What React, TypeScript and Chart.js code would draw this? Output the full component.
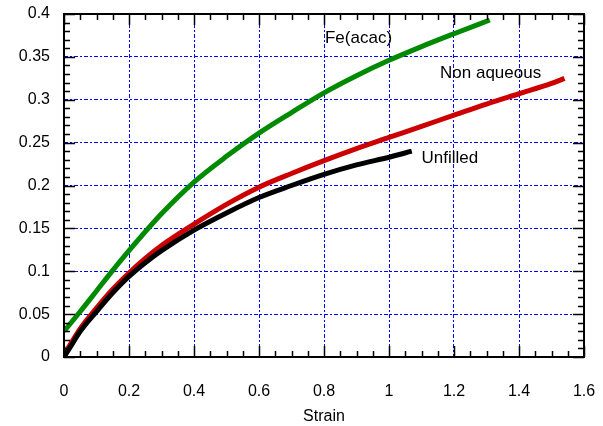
import React, { useEffect, useRef } from "react";
import { Chart, registerables } from "chart.js";

Chart.register(...registerables);

// Tick labels
const xTickValues = [0, 0.2, 0.4, 0.6, 0.8, 1.0, 1.2, 1.4, 1.6];
const xTickLabels = ["0", "0.2", "0.4", "0.6", "0.8", "1", "1.2", "1.4", "1.6"];
const yTickValues = [0, 0.05, 0.1, 0.15, 0.2, 0.25, 0.3, 0.35, 0.4];
const yTickLabels = ["0", "0.05", "0.1", "0.15", "0.2", "0.25", "0.3", "0.35", "0.4"];

// Fe(acac) series
const feX = [0, 0.05, 0.1, 0.15, 0.2, 0.3, 0.4, 0.5, 0.6, 0.7, 0.8, 0.9, 1.0, 1.1, 1.2, 1.31];
const feY = [0.03, 0.053, 0.077, 0.101, 0.124, 0.167, 0.204, 0.234, 0.261, 0.285, 0.308, 0.328, 0.346, 0.362, 0.377, 0.393];

// Non aqueous series
const naX = [0, 0.02, 0.05, 0.1, 0.15, 0.2, 0.25, 0.3, 0.4, 0.5, 0.6, 0.7, 0.8, 0.9, 1.0, 1.1, 1.2, 1.3, 1.4, 1.5, 1.54];
const naY = [0.003, 0.015, 0.033, 0.057, 0.079, 0.098, 0.115, 0.13, 0.155, 0.178, 0.198, 0.214, 0.229, 0.243, 0.256, 0.269, 0.282, 0.295, 0.307, 0.319, 0.325];

// Unfilled series
const unX = [0, 0.02, 0.05, 0.1, 0.15, 0.2, 0.25, 0.3, 0.4, 0.5, 0.6, 0.7, 0.8, 0.9, 1.0, 1.07];
const unY = [0.0, 0.012, 0.03, 0.053, 0.075, 0.094, 0.11, 0.124, 0.148, 0.168, 0.186, 0.2, 0.213, 0.224, 0.233, 0.24];

// In-plot labels (data coordinates, left edge / vertical middle)
const annotationTexts = ["Fe(acac)", "Non aqueous", "Unfilled"];
const annotationX = [0.803, 1.157, 1.1];
const annotationY = [0.372, 0.331, 0.232];

const FONT = "'Liberation Sans', Arial, sans-serif";

const toPoints = (xs: number[], ys: number[]) => xs.map((x, i) => ({ x, y: ys[i] }));

const zeroPadding = (s: any) => {
  s.paddingTop = 0;
  s.paddingBottom = 0;
  s.paddingLeft = 0;
  s.paddingRight = 0;
};

const framePlugin = {
  id: "frame",
  afterDatasetsDraw(chart: any) {
    const { ctx, chartArea, scales } = chart;
    const { left, right, top, bottom } = chartArea;
    const xs = scales.x;
    const ys = scales.y;
    ctx.save();
    ctx.strokeStyle = "#000";
    ctx.lineWidth = 1.5;
    ctx.beginPath();
    for (let i = 0; i <= 32; i++) {
      const v = i * 0.05;
      const px = Math.round(xs.getPixelForValue(v)) + 0.5;
      const len = i % 4 === 0 ? 11 : 6;
      ctx.moveTo(px, bottom);
      ctx.lineTo(px, bottom - len);
      ctx.moveTo(px, top);
      ctx.lineTo(px, top + len);
    }
    for (let i = 0; i <= 40; i++) {
      const v = i * 0.01;
      const py = Math.round(ys.getPixelForValue(v)) + 0.5;
      const len = i % 5 === 0 ? 11 : 6;
      ctx.moveTo(left, py);
      ctx.lineTo(left + len, py);
      ctx.moveTo(right, py);
      ctx.lineTo(right - len, py);
    }
    ctx.stroke();
    ctx.lineWidth = 2;
    ctx.strokeRect(left, top, right - left, bottom - top);
    ctx.fillStyle = "#000";
    ctx.font = `17px ${FONT}`;
    ctx.textAlign = "left";
    ctx.textBaseline = "middle";
    annotationTexts.forEach((t, i) => {
      ctx.fillText(t, xs.getPixelForValue(annotationX[i]), ys.getPixelForValue(annotationY[i]));
    });
    ctx.restore();
  },
};

export default function App() {
  const ref = useRef<HTMLCanvasElement | null>(null);

  useEffect(() => {
    if (!ref.current) return;
    const gridColor = (ctx: any) => {
      const v = ctx.tick ? ctx.tick.value : 0;
      const s = ctx.scale;
      if (Math.abs(v - s.min) < 1e-9 || Math.abs(v - s.max) < 1e-9) return "rgba(0,0,0,0)";
      return "#0000ff";
    };
    const chart = new Chart(ref.current, {
      type: "line",
      data: {
        datasets: [
          {
            label: "Unfilled",
            data: toPoints(unX, unY),
            borderColor: "#000000",
            borderWidth: 5,
            pointRadius: 0,
            cubicInterpolationMode: "monotone",
            order: 0,
          },
          {
            label: "Non aqueous",
            data: toPoints(naX, naY),
            borderColor: "#cc0000",
            borderWidth: 5,
            pointRadius: 0,
            cubicInterpolationMode: "monotone",
            order: 1,
          },
          {
            label: "Fe(acac)",
            data: toPoints(feX, feY),
            borderColor: "#008a00",
            borderWidth: 5,
            pointRadius: 0,
            cubicInterpolationMode: "monotone",
            order: 2,
          },
        ],
      },
      options: {
        animation: false,
        responsive: true,
        maintainAspectRatio: false,
        parsing: false as any,
        layout: { padding: { top: 14, right: 19, left: 0, bottom: 0 } },
        plugins: { legend: { display: false }, tooltip: { enabled: false } },
        scales: {
          x: {
            type: "linear",
            min: 0,
            max: 1.6,
            afterBuildTicks: (s: any) => {
              s.ticks = xTickValues.map((v) => ({ value: v }));
            },
            afterFit: (s: any) => {
              s.height = 69;
              zeroPadding(s);
            },
            ticks: {
              autoSkip: false,
              maxRotation: 0,
              padding: 25,
              color: "#000",
              font: { family: FONT, size: 16 },
              callback: (_v: any, i: number) => xTickLabels[i],
            },
            grid: { color: gridColor, lineWidth: 1, drawTicks: false },
            border: { display: false, dash: [4, 2, 2, 2] },
            title: {
              display: true,
              text: "Strain",
              color: "#000",
              font: { family: FONT, size: 16 },
              padding: { top: 0, bottom: 0 },
            },
          },
          y: {
            type: "linear",
            min: 0,
            max: 0.4,
            afterBuildTicks: (s: any) => {
              s.ticks = yTickValues.map((v) => ({ value: v }));
            },
            afterFit: (s: any) => {
              s.width = 64;
              zeroPadding(s);
            },
            ticks: {
              autoSkip: false,
              padding: 14,
              color: "#000",
              font: { family: FONT, size: 16 },
              callback: (_v: any, i: number) => yTickLabels[i],
            },
            grid: { color: gridColor, lineWidth: 1, drawTicks: false },
            border: { display: false, dash: [4, 2, 2, 2] },
          },
        },
      },
      plugins: [framePlugin],
    });
    return () => chart.destroy();
  }, []);

  return (
    <div style={{ position: "absolute", left: 0, top: 0, width: 603, height: 426, background: "#fff" }}>
      <canvas ref={ref} />
    </div>
  );
}
